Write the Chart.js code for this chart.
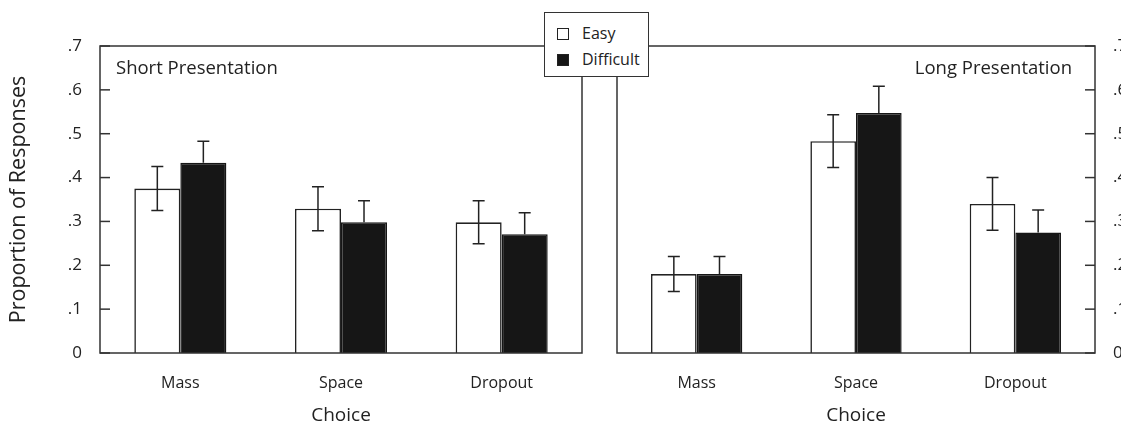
<!DOCTYPE html>
<html>
<head>
<meta charset="utf-8">
<script src="https://cdn.jsdelivr.net/npm/chart.js@4.4.0/dist/chart.umd.min.js"></script>
<style>
  html, body { margin: 0; padding: 0; background: #fff; }
  #wrap { position: relative; width: 1121px; height: 429px; overflow: hidden; font-family: "Open Sans", sans-serif; color: #222; }
  canvas { position: absolute; top: 0; }
  #cL { left: 0; }
  #cR { left: 600px; }
  .ptitle { position: absolute; font-size: 18.5px; line-height: 22px; white-space: nowrap; }
  #legend { position: absolute; left: 544px; top: 12px; width: 103px; height: 63px; border: 1.5px solid #333; background: #fff; z-index: 5; }
  .li { position: absolute; left: 12px; font-size: 16px; line-height: 18px; }
  .sw { position: absolute; left: 0; top: 3px; width: 10px; height: 10px; border: 1.3px solid #222; }
  .li span.t { position: absolute; left: 25px; top: -1px; white-space: nowrap; }
</style>
</head>
<body>
<div id="wrap">
  <canvas id="cL" width="600" height="429"></canvas>
  <canvas id="cR" width="521" height="429"></canvas>
  <div class="ptitle" id="tL" style="left:116px; top:56px;">Short Presentation</div>
  <div class="ptitle" id="tR" style="right:49px; top:56px;">Long Presentation</div>
  <div id="legend">
    <div class="li" style="top:12px;"><div class="sw" style="background:#fff;"></div><span class="t">Easy</span></div>
    <div class="li" style="top:38px;"><div class="sw" style="background:#161616;"></div><span class="t">Difficult</span></div>
  </div>
</div>
<script>
// ---- data ----
const categories = ["Mass", "Space", "Dropout"];
const seriesNames = ["Easy", "Difficult"];
const yTickLabels = ["0", ".1", ".2", ".3", ".4", ".5", ".6", ".7"];
const xAxisTitle = "Choice";
const yAxisTitle = "Proportion of Responses";

const shortEasy = [0.375, 0.329, 0.298];
const shortDifficult = [0.434, 0.298, 0.271];
const shortEasyErr = [0.050, 0.050, 0.049];
const shortDifficultErr = [0.049, 0.049, 0.049];

const longEasy = [0.180, 0.483, 0.340];
const longDifficult = [0.180, 0.547, 0.275];
const longEasyErr = [0.040, 0.060, 0.060];
const longDifficultErr = [0.040, 0.061, 0.051];

const FONT = "'Open Sans', sans-serif";
const INK = "#222";
const DARK = "#161616";

const panelPlugin = {
  id: 'panel',
  afterDatasetsDraw(chart, args, opts) {
    const ctx = chart.ctx;
    const ys = chart.scales.y;
    const a = chart.chartArea;
    // error bars (lower whisker hidden inside dark-filled bars)
    chart.data.datasets.forEach((ds, di) => {
      const meta = chart.getDatasetMeta(di);
      const darkFill = ds.backgroundColor !== '#fff';
      meta.data.forEach((bar, i) => {
        const v = ds.data[i], e = ds.err[i];
        const yt = ys.getPixelForValue(v + e);
        const yb = ys.getPixelForValue(v - e);
        const x = bar.x;
        ctx.save();
        ctx.strokeStyle = INK;
        ctx.lineWidth = 1.5;
        ctx.beginPath();
        ctx.moveTo(x, yt); ctx.lineTo(x, darkFill ? bar.y : yb);
        ctx.moveTo(x - 6, yt); ctx.lineTo(x + 6, yt);
        if (!darkFill) { ctx.moveTo(x - 6, yb); ctx.lineTo(x + 6, yb); }
        ctx.stroke();
        ctx.restore();
      });
    });
    // box
    ctx.save();
    ctx.strokeStyle = "#333";
    ctx.lineWidth = 1.5;
    ctx.strokeRect(a.left, a.top, a.right - a.left, a.bottom - a.top);
    // inward ticks
    ys.ticks.forEach((t) => {
      const y = ys.getPixelForValue(t.value);
      ctx.beginPath();
      if (opts.side === 'left') { ctx.moveTo(a.left, y); ctx.lineTo(a.left + 10, y); }
      else { ctx.moveTo(a.right, y); ctx.lineTo(a.right - 10, y); }
      ctx.stroke();
    });
    ctx.restore();
  }
};

function makeChart(id, easy, diff, easyErr, diffErr, side) {
  const left = side === 'left';
  return new Chart(document.getElementById(id), {
    type: 'bar',
    data: {
      labels: categories,
      datasets: [
        { label: seriesNames[0], data: easy, err: easyErr, backgroundColor: '#fff', borderColor: INK, borderWidth: 1.6, borderSkipped: 'bottom' },
        { label: seriesNames[1], data: diff, err: diffErr, backgroundColor: DARK, borderColor: DARK, borderWidth: 1.5, borderSkipped: 'bottom' }
      ]
    },
    options: {
      responsive: false,
      animation: false,
      events: [],
      layout: { padding: left ? { left: 0, right: 18, top: 46, bottom: 0 } : { left: 17, right: 0, top: 46, bottom: 0 } },
      plugins: { legend: { display: false }, tooltip: { enabled: false }, panel: { side: side } },
      datasets: { bar: { categoryPercentage: 0.573, barPercentage: 1.0 } },
      scales: {
        x: {
          grid: { display: false, drawTicks: false },
          border: { display: false },
          ticks: { color: INK, font: { family: FONT, size: 16 }, padding: 21 },
          title: { display: true, text: xAxisTitle, color: INK, font: { family: FONT, size: 19 }, padding: { top: 0, bottom: 2 } },
          afterFit(s) { s.height = 76; }
        },
        y: {
          position: side,
          min: 0, max: 0.7,
          grid: { display: false, drawTicks: false },
          border: { display: false },
          ticks: {
            stepSize: 0.1, color: INK, font: { family: FONT, size: 17 }, padding: 18,
            callback: (v, i) => yTickLabels[i]
          },
          title: { display: left, text: yAxisTitle, color: INK, font: { family: FONT, size: 21.5 }, padding: { top: 6, bottom: 0 } },
          afterFit(s) { s.width = left ? 100 : 26; }
        }
      }
    },
    plugins: [panelPlugin]
  });
}

makeChart('cL', shortEasy, shortDifficult, shortEasyErr, shortDifficultErr, 'left');
makeChart('cR', longEasy, longDifficult, longEasyErr, longDifficultErr, 'right');
</script>
</body>
</html>
